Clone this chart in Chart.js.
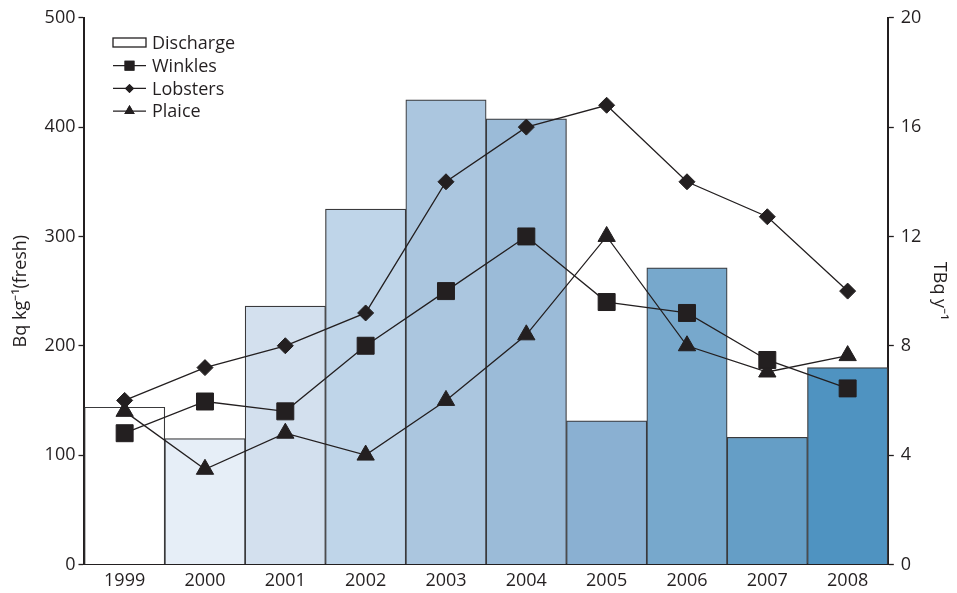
<!DOCTYPE html>
<html>
<head>
<meta charset="utf-8">
<script src="https://cdn.jsdelivr.net/npm/chart.js@4"></script>
<style>
  html, body { margin: 0; padding: 0; background: #fff; }
  #wrap { width: 957px; height: 593px; }
</style>
</head>
<body>
<div id="wrap"><canvas id="myChart"></canvas></div>
<script>
const years = ['1999', '2000', '2001', '2002', '2003', '2004', '2005', '2006', '2007', '2008'];
// TBq per year (right axis)
const discharge = [5.75, 4.6, 9.45, 13.0, 17.0, 16.3, 5.25, 10.85, 4.65, 7.2];
// Bq/kg fresh (left axis)
const winkles = [120, 149, 140, 200, 250, 300, 240, 230, 187, 161];
const lobsters = [150, 180, 200, 230, 350, 400, 420, 350, 318, 250];
const plaice = [140, 87, 120, 100, 150, 210, 300, 200, 176, 191];
const leftTicks = [0, 100, 200, 300, 400, 500];
const rightTicks = [0, 4, 8, 12, 16, 20];

const barColours = ['#ffffff', '#e6eef7', '#d3e0ee', '#bfd5e9', '#abc6df', '#9bbbd8',
    '#8ab0d2', '#77a8cc', '#659ec6', '#4f93c1'];
const ink = '#231f20';
const font = { family: 'Open Sans', size: 18 };

// legend drawn inside plot, top-left
const innerLegend = {
    id: 'innerLegend',
    afterDraw(chart) {
        const ctx = chart.ctx;
        const x0 = 113, x1 = 146, y0 = 43, step = 22.7;
        ctx.save();
        ctx.font = '18px "Open Sans"';
        ctx.textBaseline = 'middle';
        const items = [
            { label: 'Discharge', style: 'box', r: 0 },
            { label: 'Winkles', style: 'rect', r: 7 },
            { label: 'Lobsters', style: 'rectRot', r: 4.5 },
            { label: 'Plaice', style: 'triangle', r: 6 }
        ];
        items.forEach((it, i) => {
            const y = y0 + i * step;
            ctx.strokeStyle = ink;
            ctx.lineWidth = 1.3;
            if (it.style === 'box') {
                ctx.fillStyle = '#fff';
                ctx.fillRect(x0, y - 5, x1 - x0, 9);
                ctx.strokeRect(x0, y - 5, x1 - x0, 9);
            } else {
                ctx.beginPath();
                ctx.moveTo(x0, y);
                ctx.lineTo(x1, y);
                ctx.stroke();
                ctx.fillStyle = ink;
                const xc = (x0 + x1) / 2;
                Chart.helpers.drawPoint(ctx, { pointStyle: it.style, radius: it.r, rotation: 0, borderWidth: 0 }, xc, y);
                ctx.fill();
            }
            ctx.fillStyle = ink;
            ctx.fillText(it.label, x1 + 6, y + 1);
        });
        ctx.restore();
    }
};

const lineSet = (label, data, style, radius) => ({
    type: 'line',
    label: label,
    data: data,
    yAxisID: 'y',
    order: 0,
    borderColor: ink,
    borderWidth: 1.3,
    pointStyle: style,
    pointRadius: radius,
    pointBackgroundColor: ink,
    pointBorderColor: ink,
    pointBorderWidth: 1,
    tension: 0
});

new Chart(document.getElementById('myChart'), {
    data: {
        labels: years,
        datasets: [
            lineSet('Winkles', winkles, 'rect', 12),
            lineSet('Lobsters', lobsters, 'rectRot', 8),
            lineSet('Plaice', plaice, 'triangle', 10),
            {
                type: 'bar',
                label: 'Discharge',
                data: discharge,
                yAxisID: 'y1',
                order: 1,
                backgroundColor: barColours,
                borderColor: '#3a3a3c',
                borderWidth: 1.2,
                barPercentage: 1,
                categoryPercentage: 1
            }
        ]
    },
    options: {
        responsive: true,
        maintainAspectRatio: false,
        animation: false,
        layout: { padding: { top: 7, left: 10, right: -16, bottom: -5 } },
        plugins: {
            legend: { display: false },
            tooltip: { enabled: false }
        },
        scales: {
            x: {
                offset: true,
                grid: { display: true, drawOnChartArea: false, drawTicks: false },
                border: { color: ink, width: 2 },
                ticks: { color: ink, font: font, padding: 6 }
            },
            y: {
                position: 'left',
                min: 0,
                max: 500,
                afterBuildTicks: axis => { axis.ticks = leftTicks.map(v => ({ value: v })); },
                grid: { drawOnChartArea: false, tickLength: 6, tickColor: ink, tickWidth: 1.3 },
                border: { color: ink, width: 2 },
                ticks: { color: ink, font: font, padding: 3 },
                title: { display: true, text: 'Bq kg⁻¹(fresh)', color: ink, font: font, padding: { top: 0, bottom: 10 } }
            },
            y1: {
                position: 'right',
                min: 0,
                max: 20,
                afterBuildTicks: axis => { axis.ticks = rightTicks.map(v => ({ value: v })); },
                grid: { drawOnChartArea: false, tickLength: 6, tickColor: ink, tickWidth: 1.3 },
                border: { color: ink, width: 2 },
                ticks: { color: ink, font: font, padding: 7 },
                title: { display: true, text: 'TBq y⁻¹', color: ink, font: font, padding: { top: 23, bottom: 0 } }
            }
        }
    },
    plugins: [innerLegend]
});
</script>
</body>
</html>
